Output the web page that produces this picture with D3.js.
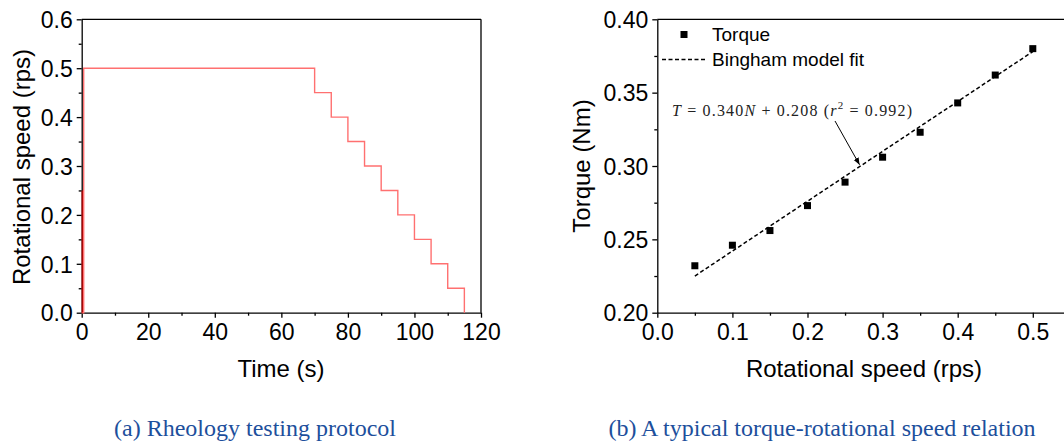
<!DOCTYPE html>
<html><head><meta charset="utf-8">
<script src="https://cdn.jsdelivr.net/npm/d3@7"></script>
<style>
html,body{margin:0;padding:0;background:#fff;}
svg{display:block;}
.ax text{font-family:"Liberation Sans",Arial,sans-serif;font-size:23px;fill:#000;}
.ax path,.ax line{stroke:#000;stroke-width:1.3;}
</style></head>
<body>
<svg id="c" width="1064" height="443"></svg>
<script>
// ---- data: (a) protocol
const protoTime  = [0, 0.6, 70, 75, 80, 85, 90, 95, 100, 105, 110, 115];
const protoSpeed = [0, 0.5, 0.45, 0.40, 0.35, 0.30, 0.25, 0.20, 0.15, 0.10, 0.05, 0];
const leftXTicks = [0, 20, 40, 60, 80, 100, 120];
const leftYTicks = [0.0, 0.1, 0.2, 0.3, 0.4, 0.5, 0.6];
// ---- data: (b) torque vs speed
const rotSpeed = [0.05, 0.10, 0.15, 0.20, 0.25, 0.30, 0.35, 0.40, 0.45, 0.50];
const torque   = [0.232, 0.246, 0.256, 0.273, 0.289, 0.306, 0.323, 0.343, 0.362, 0.380];
const fitSlope = 0.340, fitIntercept = 0.208;
const rightXTicks = [0.0, 0.1, 0.2, 0.3, 0.4, 0.5];
const rightYTicks = [0.20, 0.25, 0.30, 0.35, 0.40];
const captions = ["(a) Rheology testing protocol", "(b) A typical torque-rotational speed relation"];

const svg = d3.select("#c");
const sansFont = '"Liberation Sans",Arial,sans-serif';

function axesFrame(g, x, y, xt, yt, xMinor, yMinor, xFmt, yFmt) {
  const [x0, x1] = x.range(), [y0, y1] = y.range();
  g.append("g").attr("class","ax").attr("transform",`translate(0,${y0})`)
    .call(d3.axisBottom(x).tickValues(xMinor).tickSize(3).tickFormat(""))
    .call(s => s.select(".domain").remove());
  g.append("g").attr("class","ax").attr("transform",`translate(${x0},0)`)
    .call(d3.axisLeft(y).tickValues(yMinor).tickSize(3).tickFormat(""))
    .call(s => s.select(".domain").remove());
  const xa = g.append("g").attr("class","ax").attr("transform",`translate(0,${y0})`)
    .call(d3.axisBottom(x).tickValues(xt).tickSize(5).tickSizeOuter(0).tickPadding(3).tickFormat(xFmt));
  xa.selectAll("text").attr("dy","0.85em");
  const ya = g.append("g").attr("class","ax").attr("transform",`translate(${x0},0)`)
    .call(d3.axisLeft(y).tickValues(yt).tickSize(5).tickSizeOuter(0).tickPadding(4).tickFormat(yFmt));
  ya.selectAll("text").attr("dy","0.36em");
  g.append("line").attr("x1",x0).attr("x2",x1).attr("y1",y1).attr("y2",y1).attr("stroke","#000").attr("stroke-width",1.3);
  g.append("line").attr("x1",x1).attr("x2",x1).attr("y1",y0).attr("y2",y1).attr("stroke","#000").attr("stroke-width",1.3);
}

// ===== (a)
const gA = svg.append("g");
const xA = d3.scaleLinear().domain([0,120]).range([81.7,481]);
const yA = d3.scaleLinear().domain([0,0.6]).range([312.7,19.3]);
axesFrame(gA, xA, yA, leftXTicks, leftYTicks, d3.range(10,120,20), d3.range(0.05,0.6,0.1),
  d3.format("d"), d3.format(".1f"));
const stepLine = d3.line().x(d=>xA(d[0])).y(d=>yA(d[1])).curve(d3.curveStepAfter);
gA.append("path").datum(protoTime.map((t,i)=>[t,protoSpeed[i]]))
  .attr("d", stepLine).attr("fill","none").attr("stroke","#ff7070").attr("stroke-width",1.4);
gA.append("line").attr("x1",xA(0)+0.5).attr("x2",xA(0)+0.5).attr("y1",yA(0)).attr("y2",yA(0.25))
  .attr("stroke","#cc0000").attr("stroke-width",1.2);
gA.append("text").attr("x",281).attr("y",377).attr("text-anchor","middle")
  .attr("font-family",sansFont).attr("font-size",24).text("Time (s)");
gA.append("text").attr("transform","translate(30,167) rotate(-90)").attr("text-anchor","middle")
  .attr("font-family",sansFont).attr("font-size",24).text("Rotational speed (rps)");

// ===== (b)
const gB = svg.append("g");
const xB = d3.scaleLinear().domain([0,0.6]).range([657.3,1107.9]);
const yB = d3.scaleLinear().domain([0.2,0.4]).range([312.7,19.3]);
axesFrame(gB, xB, yB, rightXTicks, rightYTicks, d3.range(0.05,0.6,0.1), d3.range(0.225,0.4,0.05),
  d3.format(".1f"), d3.format(".2f"));
const fitX = [d3.min(rotSpeed), d3.max(rotSpeed)];
gB.append("path").datum(fitX.map(v=>[v, fitSlope*v+fitIntercept]))
  .attr("d", d3.line().x(d=>xB(d[0])).y(d=>yB(d[1])))
  .attr("fill","none").attr("stroke","#000").attr("stroke-width",1.5).attr("stroke-dasharray","4,2.5");
const ms = 7;
gB.selectAll("rect.pt").data(rotSpeed.map((v,i)=>[v,torque[i]])).join("rect").attr("class","pt")
  .attr("x",d=>xB(d[0])-ms/2).attr("y",d=>yB(d[1])-ms/2).attr("width",ms).attr("height",ms).attr("fill","#000");
// legend
gB.append("rect").attr("x",684-ms/2).attr("y",34.5-ms/2).attr("width",ms).attr("height",ms).attr("fill","#000");
gB.append("text").attr("x",712).attr("y",41).attr("font-family",sansFont).attr("font-size",19).text("Torque");
gB.append("line").attr("x1",662).attr("x2",707).attr("y1",59.5).attr("y2",59.5)
  .attr("stroke","#000").attr("stroke-width",1.5).attr("stroke-dasharray","4,2.5");
gB.append("text").attr("x",712).attr("y",65.5).attr("font-family",sansFont).attr("font-size",19).text("Bingham model fit");
// equation annotation
const eq = gB.append("text").attr("x",672).attr("y",116).attr("font-family",'"Liberation Serif","Times New Roman",serif')
  .attr("font-size",16).attr("fill","#222").attr("textLength",240).attr("lengthAdjust","spacing");
eq.append("tspan").attr("font-style","italic").text("T");
eq.append("tspan").text(" = 0.340");
eq.append("tspan").attr("font-style","italic").text("N");
eq.append("tspan").text(" + 0.208 (");
eq.append("tspan").attr("font-style","italic").text("r");
eq.append("tspan").attr("font-size",11).attr("dy",-7).text("2");
eq.append("tspan").attr("dy",7).text(" = 0.992)");
// arrow
const ax1 = xB(0.27), ay1 = yB(fitSlope*0.27+fitIntercept);
svg.append("defs").append("marker").attr("id","ah").attr("viewBox","0 0 10 10").attr("refX",10).attr("refY",5)
  .attr("markerWidth",7).attr("markerHeight",7).attr("orient","auto-start-reverse")
  .append("path").attr("d","M0,1 L10,5 L0,9 Z").attr("fill","#000");
gB.append("line").attr("x1",835).attr("y1",121).attr("x2",ax1-0.5).attr("y2",ay1-1.5)
  .attr("stroke","#000").attr("stroke-width",1).attr("marker-end","url(#ah)");
gB.append("text").attr("x",864).attr("y",377).attr("text-anchor","middle")
  .attr("font-family",sansFont).attr("font-size",24).text("Rotational speed (rps)");
gB.append("text").attr("transform","translate(590,166) rotate(-90)").attr("text-anchor","middle")
  .attr("font-family",sansFont).attr("font-size",24).text("Torque (Nm)");

// captions
svg.selectAll("text.cap").data(captions).join("text").attr("class","cap")
  .attr("x",(d,i)=>i===0?255:822).attr("y",436).attr("text-anchor","middle")
  .attr("font-family",'"Liberation Serif","Times New Roman",serif').attr("font-size",24)
  .attr("fill","#1d4f9c").text(d=>d);
</script>
</body></html>
